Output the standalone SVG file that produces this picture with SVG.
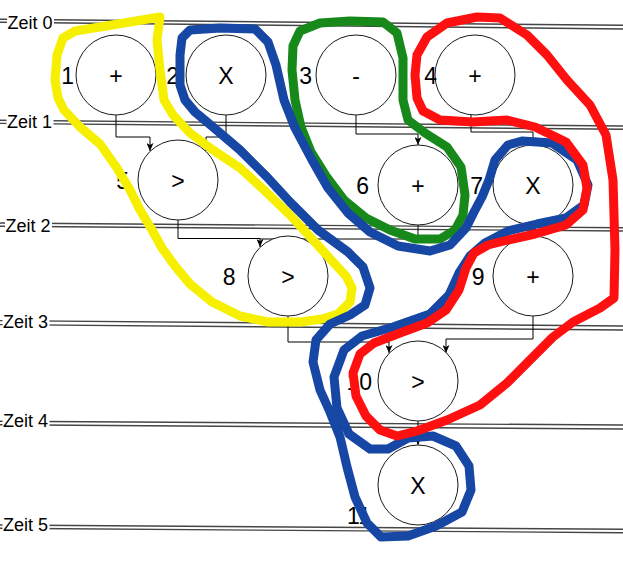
<svg xmlns="http://www.w3.org/2000/svg" width="623" height="565" viewBox="0 0 623 565">
<style>
.tl{stroke:#454545;stroke-width:1.4;fill:none}
.zt{font-family:"Liberation Sans",Arial,sans-serif;font-size:18px;fill:#000}
.zb{fill:#fff;stroke:none}
.nd circle{fill:#fff;stroke:#1a1a1a;stroke-width:1}
.sym{font-family:"Liberation Sans",Arial,sans-serif;font-size:23px;text-anchor:middle;fill:#000}
.num{font-family:"Liberation Sans",Arial,sans-serif;font-size:23px;text-anchor:end;fill:#000}
.cn{fill:none;stroke:#000;stroke-width:1}
.hl{fill:none;stroke-width:9;stroke-linejoin:round;stroke-linecap:round}
</style>
<defs>
<marker id="ar" viewBox="0 0 8 7" markerWidth="8" markerHeight="7" refX="8" refY="3.5" orient="auto" markerUnits="userSpaceOnUse">
<path d="M0,0 L8,3.5 L0,7 L2,3.5 Z" fill="#000"/>
</marker>
</defs>
<rect width="623" height="565" fill="#fff"/>
<g id="timelines">
<line class="tl" x1="0" y1="19.3" x2="623" y2="25.3"/>
<line class="tl" x1="0" y1="22.2" x2="623" y2="29"/>
<line class="tl" x1="0" y1="120.3" x2="623" y2="126"/>
<line class="tl" x1="0" y1="123.4" x2="623" y2="129.3"/>
<line class="tl" x1="0" y1="223" x2="623" y2="227.7"/>
<line class="tl" x1="0" y1="226.3" x2="623" y2="231"/>
<line class="tl" x1="0" y1="320.6" x2="623" y2="326"/>
<line class="tl" x1="0" y1="324.6" x2="623" y2="330"/>
<line class="tl" x1="0" y1="421.3" x2="623" y2="425"/>
<line class="tl" x1="0" y1="424.7" x2="623" y2="429"/>
<line class="tl" x1="0" y1="525" x2="623" y2="529.3"/>
<line class="tl" x1="0" y1="528.3" x2="623" y2="532.7"/>
<rect class="zb" x="7" y="14" width="47" height="18"/>
<text class="zt" x="7.5" y="28.5">Zeit 0</text>
<rect class="zb" x="6.5" y="114" width="47" height="18"/>
<text class="zt" x="7" y="128.3">Zeit 1</text>
<rect class="zb" x="5" y="218" width="47" height="18"/>
<text class="zt" x="5.5" y="232.3">Zeit 2</text>
<rect class="zb" x="2.5" y="314" width="47" height="18"/>
<text class="zt" x="3" y="328.3">Zeit 3</text>
<rect class="zb" x="2.5" y="413" width="47" height="18"/>
<text class="zt" x="3" y="427">Zeit 4</text>
<rect class="zb" x="2.5" y="516.5" width="47" height="18"/>
<text class="zt" x="3" y="530.7">Zeit 5</text>
</g>
<g id="connectors">
<path class="cn" d="M116,115 V137 H150 V151" marker-end="url(#ar)"/>
<path class="cn" d="M226,115 V137 H206 V151" marker-end="url(#ar)"/>
<path class="cn" d="M356,115 V134 H418 V145" marker-end="url(#ar)"/>
<path class="cn" d="M471,115 V132 H533 V145" marker-end="url(#ar)"/>
<path class="cn" d="M178,220 V238.5 H260 V247" marker-end="url(#ar)"/>
<path class="cn" d="M418,225 V239 H260"/>
<path class="cn" d="M533,225 V236" marker-end="url(#ar)"/>
<path class="cn" d="M288,316 V342 H389 V353" marker-end="url(#ar)"/>
<path class="cn" d="M533,316 V339 H446 V353" marker-end="url(#ar)"/>
<path class="cn" d="M418,421 V445" marker-end="url(#ar)"/>
</g>
<g id="n1" class="nd"><circle cx="116" cy="75" r="40"/><text class="sym" x="116" y="84">+</text><text class="num" x="74" y="84">1</text></g>
<g id="n2" class="nd"><circle cx="226" cy="75" r="40"/><text class="sym" x="226" y="84">X</text><text class="num" x="179" y="84">2</text></g>
<g id="n3" class="nd"><circle cx="356" cy="75" r="40"/><text class="sym" x="356" y="84">-</text><text class="num" x="312" y="84">3</text></g>
<g id="n4" class="nd"><circle cx="475" cy="75" r="40"/><text class="sym" x="475" y="84">+</text><text class="num" x="437" y="84">4</text></g>
<g id="n5" class="nd"><circle cx="178" cy="180" r="40"/><text class="sym" x="178" y="189">&gt;</text><text class="num" x="129" y="189">5</text></g>
<g id="n6" class="nd"><circle cx="418" cy="185" r="40"/><text class="sym" x="418" y="194">+</text><text class="num" x="369" y="194">6</text></g>
<g id="n7" class="nd"><circle cx="533" cy="185" r="40"/><text class="sym" x="533" y="194">X</text><text class="num" x="483" y="194">7</text></g>
<g id="n8" class="nd"><circle cx="288" cy="276" r="40"/><text class="sym" x="288" y="285">&gt;</text><text class="num" x="235.5" y="285">8</text></g>
<g id="n9" class="nd"><circle cx="533" cy="276" r="40"/><text class="sym" x="533" y="285">+</text><text class="num" x="484.5" y="285">9</text></g>
<g id="n10" class="nd"><circle cx="418" cy="381" r="40"/><text class="sym" x="418" y="390">&gt;</text><text class="num" x="372" y="390">10</text></g>
<g id="n11" class="nd"><circle cx="418" cy="485" r="40"/><text class="sym" x="418" y="494">X</text><text class="num" x="371" y="524">11</text></g>
<g id="highlights">
<path class="hl" stroke="#f6f000" d="M160,17 L130,22 L100,27 L75,31 L63,38 L57,55 L55,80 L58,98 L64,110 L80,127 L100,144 L117,168 L130,190 L140,210 L152,230 L162,248 L175,266 L190,284 L212,302 L240,316 L268,322 L300,322 L322,319 L338,314 L350,302 L352,288 L346,276 L333,262 L313,240 L290,215 L264,190 L240,168 L213,150 L190,133 L173,115 L164,100 L160,70 L157,40 Z"/>
<path class="hl" stroke="#16891a" d="M320,23 L350,21 L383,22 L397,33 L403,58 L403,100 L408,120 L425,133 L447,147 L461,167 L465,195 L463,215 L455,230 L440,239 L415,239 L390,230 L366,218 L344,200 L326,176 L311,152 L301,127 L295,100 L292,70 L293,46 L300,31 Z"/>
<path class="hl" stroke="#1747a4" d="M190,30 L220,28 L255,29 L268,42 L276,65 L284,100 L295,128 L312,160 L328,188 L348,213 L370,232 L398,246 L430,251 L450,245 L466,228 L474,212 L482,197 L489,180 L495,160 L508,145 L522,141 L552,143 L577,160 L588,185 L584,205 L566,218 L537,224 L508,231 L485,243 L470,256 L459,273 L449,295 L430,314 L393,327 L362,336 L344,350 L334,377 L337,408 L349,434 L370,449 L388,449 L408,438 L433,436 L456,446 L469,466 L471,490 L462,512 L436,526 L408,536 L381,537 L367,523 L355,497 L347,467 L340,437 L330,412 L320,390 L313,362 L316,340 L330,324 L350,315 L365,305 L370,288 L363,267 L348,252 L318,230 L290,202 L267,177 L240,150 L213,127 L195,112 L185,100 L180,85 L180,55 L182,38 Z"/>
<path class="hl" stroke="#ff1010" d="M417,55 L427,37 L447,23 L477,17 L500,18 L527,35 L547,55 L567,80 L590,105 L606,135 L613,180 L615,250 L614,298 L600,308 L573,322 L553,337 L533,357 L507,383 L480,405 L447,420 L417,431 L397,436 L380,430 L366,416 L356,396 L353,373 L360,354 L374,343 L400,333 L427,323 L446,310 L459,290 L466,268 L474,253 L488,245 L508,240 L535,234 L566,225 L583,210 L587,188 L583,165 L566,142 L535,127 L507,120 L473,122 L440,120 L423,111 L417,98 L415,75 Z"/>
</g>
</svg>
